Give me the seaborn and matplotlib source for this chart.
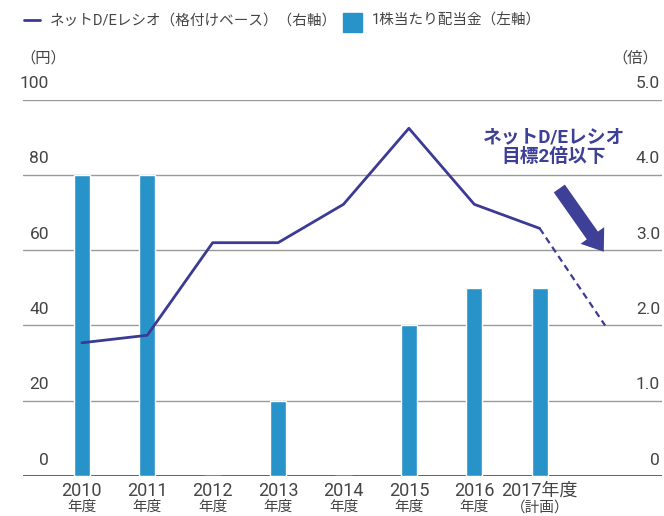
import numpy as np
import pandas as pd
import matplotlib
matplotlib.use("Agg")
import matplotlib.pyplot as plt
import seaborn as sns
from matplotlib.lines import Line2D
from matplotlib.patches import Rectangle

# ---- data ----
years = ["2010\n年度", "2011\n年度", "2012\n年度", "2013\n年度", "2014\n年度",
         "2015\n年度", "2016\n年度", "2017年度\n（計画）"]
dividend = [80, 80, 0, 20, 0, 40, 50, 50]
de_ratio = [1.77, 1.87, 3.10, 3.10, 3.61, 4.62, 3.61, 3.29]
de_target = 2.0
left_ticks = [0, 20, 40, 60, 80, 100]
left_labels = ["0", "20", "40", "60", "80", "100"]
right_ticks = [0, 1.0, 2.0, 3.0, 4.0, 5.0]
right_labels = ["0", "1.0", "2.0", "3.0", "4.0", "5.0"]
legend_line = "ネットD/Eレシオ（格付けベース）（右軸）"
legend_bar = "1株当たり配当金（左軸）"
note_text = "ネットD/Eレシオ\n目標2倍以下"

BAR = "#2893c9"
LINE = "#3b3a95"
NOTE = "#3d4096"
TXT = "#444444"
GRID = "#9a9a9a"

sns.set_theme(style="white")
plt.rcParams["font.family"] = ["Roboto", "Noto Sans CJK JP", "DejaVu Sans"]

W, H = 664, 516
fig = plt.figure(figsize=(W / 100, H / 100), dpi=100)
ax = fig.add_axes([23 / W, 40 / H, 639 / W, 376.3 / H])

df = pd.DataFrame({"year": years, "dividend": dividend})
sns.barplot(data=df, x="year", y="dividend", order=years, color=BAR,
            saturation=1, width=0.25, ax=ax, zorder=2)
ax.set_xlim(-0.9, 8.87)
ax.set_ylim(0, 100)
ax.set_xlabel("")
ax.set_ylabel("")
for s in ax.spines.values():
    s.set_visible(False)
ax.set_yticks([])
ax.set_xticks(range(len(years)))
ax.set_xticklabels([])
ax.tick_params(axis="x", length=0)

# gridlines
for v in left_ticks:
    if v == 0:
        ax.axhline(v, color="#555555", lw=1.3, zorder=1)
    else:
        ax.axhline(v, color=GRID, lw=1.0, zorder=1)

# left labels above gridlines
ytr = ax.get_yaxis_transform()
for v, lab in zip(left_ticks, left_labels):
    ax.annotate(lab, xy=(26 / 639, v), xycoords=ytr, xytext=(0, 11.5),
                textcoords="offset points", ha="right", va="center",
                fontsize=12.5, color=TXT)
# x labels
xtr = ax.get_xaxis_transform()
for i, lab in enumerate(years):
    top, bot = lab.split("\n")
    ax.annotate(top, xy=(i, 0), xycoords=xtr, xytext=(0, -10.8),
                textcoords="offset points", ha="center", va="center",
                fontsize=13, color=TXT)
    ax.annotate(bot, xy=(i, 0), xycoords=xtr, xytext=(0, -22.5),
                textcoords="offset points", ha="center", va="center",
                fontsize=10.5, color=TXT)

# right axis line
ax2 = ax.twinx()
ax2.set_ylim(0, 5)
ax2.set_yticks([])
for s in ax2.spines.values():
    s.set_visible(False)
pos = np.arange(len(de_ratio))
sns.lineplot(x=pos, y=de_ratio, ax=ax2, color=LINE, lw=2, sort=False)
sns.lineplot(x=[pos[-1], pos[-1] + 1], y=[de_ratio[-1], de_target], ax=ax2,
             color=LINE, lw=1.6, sort=False, linestyle=(0, (3, 2)))
ax2.set_xlim(-0.9, 8.87)
ytr2 = ax2.get_yaxis_transform()
for v, lab in zip(right_ticks, right_labels):
    ax2.annotate(lab, xy=(1.0, v), xycoords=ytr2, xytext=(-1.5, 11.5),
                 textcoords="offset points", ha="right", va="center",
                 fontsize=12.5, color=TXT)

# annotation
ax2.text(7.22, 4.37, note_text, ha="center", va="center", fontsize=13.5,
         fontweight="bold", color=NOTE, linespacing=1.1)
ax2.annotate("", xy=(7.98, 2.98), xytext=(7.3, 3.82),
             arrowprops=dict(arrowstyle="simple,head_width=1.6,head_length=1.1,tail_width=0.75",
                             color=NOTE, lw=0, shrinkA=0, shrinkB=0,
                             mutation_scale=13))

# unit labels
fig.text(20 / W, 1 - 58 / H, "（円）", ha="left", va="center", fontsize=11, color=TXT)
fig.text(658 / W, 1 - 58 / H, "（倍）", ha="right", va="center", fontsize=11, color=TXT)

# legend (manual)
fig.add_artist(Line2D([24 / W, 40 / W], [1 - 20 / H] * 2, color=LINE, lw=2))
fig.text(50 / W, 1 - 21 / H, legend_line, ha="left", va="center", fontsize=10.5, color=TXT)
fig.add_artist(Rectangle((343 / W, 1 - 32 / H), 19 / W, 19 / H, color=BAR,
                         transform=fig.transFigure))
fig.text(372 / W, 1 - 21 / H, legend_bar, ha="left", va="center", fontsize=10.5, color=TXT)

fig.savefig("out.png", dpi=100)
